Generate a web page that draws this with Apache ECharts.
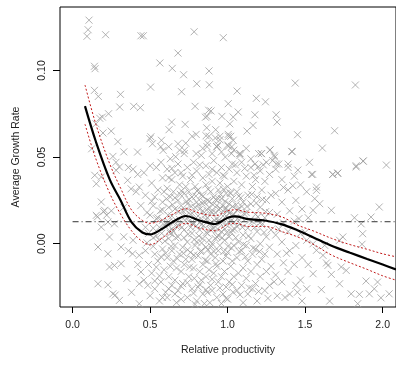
<!DOCTYPE html>
<html>
<head>
<meta charset="utf-8">
<script src="https://cdn.jsdelivr.net/npm/echarts@6/dist/echarts.min.js"></script>
<style>
  html, body { margin: 0; padding: 0; background: #fff; }
  #chart { width: 396px; height: 365px; }
</style>
</head>
<body>
<div id="chart"></div>
<script>
// tick labels
const xTicks = [0, 0.5, 1, 1.5, 2]
const yTicks = [0, 0.05, 0.1]

// observations (relative productivity, average growth rate)
const points = [
  // upper / outlying points
  [0.106,0.129],[0.100,0.1235],[0.093,0.1197],[0.213,0.1206],[0.441,0.120],[0.141,0.1024],[0.145,0.101],
  [0.141,0.0885],[0.166,0.085],[0.309,0.0862],[0.304,0.0789],[0.394,0.0793],[0.437,0.0785],[0.192,0.0731],
  [0.232,0.075],[0.151,0.0692],[0.175,0.0724],[0.196,0.0639],[0.249,0.065],[0.292,0.0589],[0.123,0.0548],
  [0.419,0.0529],[0.26,0.0504],[0.456,0.120],[0.784,0.1223],[0.972,0.1189],[0.68,0.110],[0.563,0.1043],
  [0.643,0.1012],[0.716,0.0975],[0.88,0.0997],[0.503,0.0904],[0.703,0.0877],[0.801,0.0923],[0.882,0.0917],
  [0.79,0.0793],[0.893,0.0766],[0.867,0.0735],[0.963,0.0735],[0.639,0.0702],[0.726,0.0689],[0.622,0.0658],
  [0.865,0.0669],[0.923,0.0658],[0.797,0.0631],[0.771,0.062],[0.861,0.0623],[0.95,0.062],[0.499,0.0606],
  [0.573,0.0597],[0.515,0.0577],[0.68,0.0577],[0.937,0.057],[0.584,0.0539],[0.722,0.0539],[0.797,0.052],
  [1.436,0.0927],[1.061,0.0881],[1.185,0.0839],[1.244,0.0819],[1.004,0.0808],[1.068,0.076],[1.036,0.0731],
  [1.176,0.0744],[1.313,0.0744],[1.319,0.0702],[1.014,0.0692],[1.164,0.0683],[1.125,0.065],[1.451,0.0629],
  [1.004,0.0631],[1.036,0.0597],[1.004,0.0562],[1.078,0.052],[1.217,0.052],[1.274,0.0542],[1.413,0.0533],
  [1.025,0.052],[1.824,0.0916],[1.69,0.0652],[1.611,0.0552],[1.135,0.137],[2.024,0.0454],[1.873,0.0477],
  [1.829,0.045],[1.417,0.0531],[1.528,0.047],[1.549,0.040],[1.677,0.040],[1.709,0.0406],[0.505,0.0617],
  [0.569,0.056],[0.665,0.0502],[0.921,0.061],[0.931,0.056],[1.006,0.062],[0.867,0.056],[1.027,0.056],
  [1.08,0.052],[1.219,0.052],[1.176,0.046],[1.198,0.0444],[1.315,0.046],[1.39,0.044],[1.453,0.0425],
  [1.272,0.054],[1.304,0.050],[0.857,0.073],[0.878,0.077],
  // right side
  [1.875,0.0477],[1.829,0.0443],[1.679,0.040],[1.711,0.0408],[1.541,0.040],[1.573,0.0327],[1.573,0.0308],
  [1.562,0.026],[1.978,0.0212],[1.669,0.0193],[1.551,0.0193],[1.594,0.0231],[1.818,0.015],[1.925,0.0154],
  [1.861,0.0115],[1.743,0.0039],[1.871,0.0058],[1.722,0.002],[1.867,-0.0003],[1.626,-0.0009],[1.551,0.0],
  [1.573,-0.0038],[1.615,-0.0067],[1.637,-0.0111],[1.647,-0.0125],[1.551,-0.0173],[1.669,-0.0177],
  [1.765,-0.0154],[1.733,-0.0134],[1.893,-0.0215],[1.967,-0.0221],[1.722,-0.0231],[1.605,-0.0265],
  [1.946,-0.026],[1.797,-0.0289],[1.85,-0.0292],[1.914,-0.0289],[1.989,-0.0312],[1.658,-0.0331],
  [1.839,-0.0346],[2.042,-0.0289],
  // left side
  [0.143,0.0395],[0.185,0.0385],[0.153,0.0346],[0.302,0.0443],[0.281,0.0424],[0.355,0.0366],[0.377,0.0317],
  [0.43,0.0327],[0.185,0.0241],[0.206,0.0193],[0.153,0.0164],[0.228,0.0125],[0.27,0.0115],[0.185,0.0096],
  [0.238,0.0039],[0.164,-0.0019],[0.313,-0.0019],[0.228,-0.0058],[0.387,-0.0058],[0.43,-0.0067],
  [0.27,-0.0125],[0.313,-0.0115],[0.238,-0.0134],[0.164,-0.0231],[0.228,-0.0237],[0.26,-0.0289],
  [0.302,-0.0327],[0.43,-0.0231],[0.441,-0.0163],[0.43,-0.0346],[0.275,-0.0296],[0.16,0.0155],[0.2,0.0185],
  [0.22,0.0165],[0.25,0.019],[0.33,0.004],[0.36,-0.004],[0.39,0.002],[0.42,-0.012],[0.35,-0.020],
  [0.38,-0.028],[0.44,0.022],[0.41,0.030],[0.33,0.021],[0.28,0.047],[0.36,0.044],[0.39,0.043],[0.42,0.040],
  [0.33,0.053],
  // 0.45 - 0.6
  [0.46,0.041],[0.47,0.028],[0.48,0.018],[0.47,-0.004],[0.49,-0.012],[0.46,-0.021],[0.50,-0.030],[0.51,0.035],
  [0.52,0.022],[0.52,0.009],[0.53,-0.006],[0.51,-0.017],[0.53,-0.026],[0.54,0.044],[0.55,0.031],[0.55,0.015],
  [0.56,0.002],[0.55,-0.010],[0.57,-0.022],[0.56,-0.033],[0.58,0.038],[0.58,0.024],[0.59,0.011],[0.58,-0.003],
  [0.59,-0.015],[0.60,-0.028],[0.57,0.047],[0.49,0.006],[0.54,-0.0135],[0.59,0.030],[0.50,0.045],[0.53,0.027],
  [0.565,0.019],[0.575,0.006],[0.485,-0.024],
  [0.52,-0.0015],[0.54,0.0045],[0.56,-0.0185],[0.58,0.0135],[0.50,0.0165],[0.47,0.0095],[0.53,-0.0215],
  [0.57,-0.0075],[0.595,0.0015],[0.51,0.0245],
  [0.58,0.0195],[0.56,0.0095],[0.54,0.0145],[0.52,0.0035],[0.6,-0.0055],[0.48,0.0005],
  // 0.6 - 0.8
  [0.61,0.043],[0.61,0.032],[0.62,0.021],[0.61,0.012],[0.62,0.003],[0.61,-0.008],[0.62,-0.019],[0.61,-0.031],
  [0.63,0.049],[0.64,0.037],[0.63,0.027],[0.64,0.016],[0.63,0.006],[0.64,-0.004],[0.63,-0.013],[0.64,-0.024],
  [0.66,0.041],[0.65,0.030],[0.66,0.020],[0.67,0.010],[0.66,-0.001],[0.65,-0.010],[0.66,-0.021],[0.67,-0.034],
  [0.68,0.046],[0.69,0.034],[0.68,0.025],[0.69,0.014],[0.68,0.004],[0.69,-0.006],[0.70,-0.016],[0.68,-0.027],
  [0.71,0.039],[0.72,0.029],[0.71,0.019],[0.72,0.008],[0.71,-0.002],[0.72,-0.012],[0.71,-0.023],[0.72,0.052],
  [0.74,0.044],[0.73,0.033],[0.74,0.023],[0.75,0.013],[0.74,0.001],[0.73,-0.009],[0.75,-0.019],[0.74,-0.031],
  [0.76,0.037],[0.77,0.027],[0.76,0.017],[0.77,0.006],[0.76,-0.005],[0.78,-0.014],[0.77,-0.026],[0.78,0.047],
  [0.79,0.033],[0.79,0.021],[0.795,0.010],[0.79,-0.001],[0.785,-0.020],[0.79,-0.035],[0.65,0.007],[0.70,0.022],
  [0.75,0.030],[0.78,0.012],[0.62,0.038],[0.67,-0.014],[0.73,0.016],[0.77,-0.009],
  [0.605,0.026],[0.615,0.0165],[0.625,0.0075],[0.635,-0.0015],[0.645,0.0225],[0.655,0.0125],[0.665,0.0035],
  [0.675,-0.0085],[0.685,0.0185],[0.695,0.0285],[0.705,0.0095],[0.715,-0.0055],[0.725,0.0135],[0.735,0.0245],
  [0.745,0.0055],[0.755,-0.0135],[0.765,0.0215],[0.775,0.0115],[0.785,0.0025],[0.795,0.0275],
  [0.702,0.0305],[0.718,0.0035],[0.728,0.0195],[0.742,-0.0035],[0.752,0.0255],[0.762,0.0095],[0.772,0.0175],
  [0.782,-0.0065],[0.792,0.0145],[0.68,0.0105],[0.66,0.0265],[0.64,0.0085],[0.62,0.0125],
  // 0.8 - 1.05
  [0.80,0.042],[0.81,0.031],[0.80,0.024],[0.81,0.016],[0.82,0.008],[0.80,0.001],[0.81,-0.007],[0.82,-0.016],
  [0.81,-0.025],[0.80,-0.033],[0.83,0.051],[0.84,0.038],[0.83,0.028],[0.84,0.019],[0.83,0.011],[0.84,0.003],
  [0.83,-0.004],[0.84,-0.012],[0.83,-0.021],[0.84,-0.029],[0.86,0.045],[0.86,0.034],[0.87,0.025],[0.86,0.014],
  [0.87,0.006],[0.86,-0.002],[0.87,-0.010],[0.86,-0.019],[0.87,-0.028],[0.88,0.040],[0.89,0.030],[0.88,0.021],
  [0.89,0.012],[0.88,0.002],[0.89,-0.006],[0.88,-0.015],[0.89,-0.024],[0.885,-0.034],[0.91,0.048],[0.90,0.036],
  [0.91,0.027],[0.92,0.018],[0.91,0.009],[0.90,0.000],[0.92,-0.008],[0.91,-0.017],[0.90,-0.027],[0.93,0.041],
  [0.94,0.031],[0.93,0.022],[0.94,0.013],[0.93,0.004],[0.94,-0.004],[0.93,-0.013],[0.94,-0.022],[0.93,-0.031],
  [0.96,0.044],[0.95,0.035],[0.96,0.026],[0.97,0.016],[0.96,0.007],[0.95,-0.001],[0.97,-0.010],[0.96,-0.019],
  [0.97,-0.029],[0.98,0.039],[0.99,0.029],[0.98,0.020],[0.99,0.011],[0.98,0.002],[0.99,-0.007],[0.98,-0.016],
  [0.99,-0.025],[0.985,0.050],[1.01,0.043],[1.00,0.033],[1.01,0.023],[1.02,0.013],[1.01,0.004],[1.00,-0.005],
  [1.02,-0.013],[1.01,-0.022],[1.00,-0.032],[1.03,0.046],[1.04,0.036],[1.03,0.026],[1.04,0.017],[1.03,0.008],
  [1.04,-0.001],[1.03,-0.010],[1.04,-0.019],[1.035,-0.028],[0.85,0.024],[0.90,0.018],[0.95,0.012],[1.00,0.019],
  [0.87,0.015],[0.92,0.003],[0.97,0.022],[1.02,0.029],[0.82,0.020],[0.94,0.026],[0.99,0.016],[0.89,0.008],
  [0.805,0.0135],[0.815,0.0045],[0.825,-0.0045],[0.835,0.0235],[0.845,0.0105],[0.855,-0.0095],[0.865,0.0195],
  [0.875,0.0315],[0.885,0.0115],[0.895,-0.0015],[0.905,0.0225],[0.915,0.0135],[0.925,-0.0115],[0.935,0.0085],
  [0.945,0.0195],[0.955,0.0285],[0.965,0.0035],[0.975,-0.0045],[0.985,0.0245],[0.995,0.0065],[1.005,0.0125],
  [1.015,0.0295],[1.025,-0.0025],[1.035,0.0165],[1.045,0.0085],
  [0.802,0.0305],[0.812,0.0225],[0.822,0.0125],[0.832,0.0005],[0.842,0.0275],[0.852,0.0165],[0.862,0.0065],
  [0.872,-0.0035],[0.882,0.0245],[0.892,0.0185],[0.902,0.0085],[0.912,-0.0045],[0.922,0.0255],[0.932,0.0145],
  [0.942,0.0045],[0.952,0.0205],[0.962,0.0125],[0.972,0.0315],[0.982,0.0085],[0.992,0.0205],[1.002,-0.0015],
  [1.012,0.0175],[1.022,0.0065],[1.032,0.0215],[1.042,0.0125],
  // 1.05 - 1.3
  [1.06,0.041],[1.06,0.030],[1.07,0.020],[1.06,0.010],[1.07,0.001],[1.06,-0.008],[1.07,-0.017],[1.06,-0.027],
  [1.09,0.047],[1.09,0.034],[1.10,0.024],[1.09,0.015],[1.10,0.005],[1.09,-0.004],[1.10,-0.014],[1.09,-0.024],
  [1.10,-0.034],[1.12,0.039],[1.13,0.028],[1.12,0.018],[1.13,0.009],[1.12,-0.001],[1.13,-0.010],[1.12,-0.020],
  [1.13,-0.029],[1.15,0.044],[1.16,0.033],[1.15,0.023],[1.16,0.013],[1.15,0.003],[1.16,-0.006],[1.15,-0.016],
  [1.16,-0.026],[1.18,0.037],[1.19,0.027],[1.18,0.017],[1.19,0.007],[1.18,-0.003],[1.19,-0.012],[1.18,-0.023],
  [1.19,-0.033],[1.21,0.042],[1.22,0.031],[1.21,0.021],[1.22,0.011],[1.21,0.000],[1.22,-0.009],[1.21,-0.019],
  [1.24,0.036],[1.25,0.025],[1.24,0.015],[1.25,0.004],[1.24,-0.006],[1.25,-0.016],[1.24,-0.027],[1.27,0.040],
  [1.28,0.028],[1.27,0.018],[1.28,0.008],[1.27,-0.002],[1.28,-0.013],[1.27,-0.024],[1.29,0.048],
  [1.055,0.0225],[1.065,0.0145],[1.075,-0.0045],[1.085,0.0265],[1.095,0.0095],[1.105,0.0175],[1.115,-0.0075],
  [1.125,0.0215],[1.135,0.0045],[1.145,0.0135],[1.155,0.0285],[1.165,-0.0025],[1.175,0.0095],[1.185,0.0235],
  [1.195,0.0155],[1.205,-0.0045],[1.215,0.0125],[1.225,0.0255],[1.235,0.0065],[1.245,0.0185],
  [1.052,0.0035],[1.062,0.0195],[1.072,0.0275],[1.082,0.0115],[1.092,0.0215],[1.102,-0.0005],
  // 1.3 - 1.55
  [1.31,0.043],[1.31,0.029],[1.32,0.017],[1.31,0.005],[1.32,-0.006],[1.31,-0.018],[1.32,-0.030],[1.35,0.037],
  [1.35,0.024],[1.36,0.012],[1.35,0.001],[1.36,-0.011],[1.35,-0.022],[1.39,0.046],[1.39,0.031],[1.40,0.019],
  [1.39,0.007],[1.40,-0.004],[1.39,-0.016],[1.40,-0.029],[1.43,0.039],[1.44,0.025],[1.43,0.013],[1.44,-0.001],
  [1.43,-0.012],[1.44,-0.024],[1.47,0.034],[1.48,0.020],[1.47,0.006],[1.48,-0.008],[1.47,-0.021],[1.48,-0.033],
  [1.51,0.030],[1.52,0.015],[1.51,0.002],[1.52,-0.012],[1.51,-0.026],
  [1.36,0.0325],[1.42,0.0335],[1.46,0.0145],[1.33,0.0085],[1.38,-0.0055],[1.5,0.0065],
  // lower band
  [0.62,-0.026],[0.66,-0.029],[0.7,-0.0245],[0.74,-0.0225],[0.78,-0.0285],[0.82,-0.0235],[0.86,-0.0265],
  [0.9,-0.0205],[0.95,-0.0255],[0.99,-0.0315],[1.03,-0.0235],[1.08,-0.0295],[1.14,-0.0255],[1.2,-0.0275],
  [1.26,-0.0315],[1.3,-0.022],[1.37,-0.031],[1.45,-0.028],[0.58,-0.031],[0.7,-0.032],[0.85,-0.0345],[0.96,-0.0345],
  // 0.04 - 0.06 band
  [0.84,0.055],[0.87,0.058],[0.9,0.052],[0.93,0.056],[0.96,0.053],[1.0,0.057],[1.04,0.054],[1.08,0.051],
  [1.12,0.055],[1.15,0.049],[1.2,0.052],[1.25,0.047],[1.3,0.051],[1.33,0.046],[0.88,0.062],[0.95,0.06],
  [1.02,0.062],[0.73,0.058],[0.69,0.054],[0.62,0.056],
  [0.64,0.0435],[0.7,0.041],[0.77,0.0395],[0.82,0.0455],[0.9,0.043],[0.97,0.0395],[1.05,0.0455],[1.11,0.0435],
  [1.17,0.0395],[1.23,0.0455]
]

// smoothed fit and its confidence band
const fitX = [0.08, 0.15, 0.24, 0.31, 0.38, 0.45, 0.5, 0.57, 0.65, 0.73, 0.82, 0.92, 1.0, 1.05, 1.13, 1.24, 1.35, 1.45, 1.55, 1.67, 1.79, 1.9, 2.0, 2.086]
const fitY = [0.0794, 0.059, 0.037, 0.025, 0.0125, 0.0065, 0.0054, 0.0082, 0.0128, 0.016, 0.0134, 0.0114, 0.015, 0.0158, 0.0142, 0.0134, 0.0112, 0.0078, 0.0038, -0.0012, -0.0052, -0.0088, -0.012, -0.0148]
const upperY = [0.0916, 0.069, 0.046, 0.032, 0.0195, 0.0135, 0.0118, 0.0135, 0.0172, 0.0202, 0.0176, 0.0162, 0.019, 0.0196, 0.0182, 0.0176, 0.0155, 0.0108, 0.0075, 0.0031, -0.0005, -0.0032, -0.0058, -0.0075]
const lowerY = [0.069, 0.049, 0.029, 0.017, 0.0075, 0.0012, -0.0006, 0.0028, 0.0082, 0.0118, 0.009, 0.0075, 0.0112, 0.0118, 0.01, 0.01, 0.007, 0.004, -0.0002, -0.0065, -0.011, -0.0148, -0.0185, -0.021]

// mean growth rate (dash-dot reference line)
const meanRate = 0.0127

const zip = (xs, ys) => xs.map((x, i) => [x, ys[i]])

let chart = echarts.init(document.getElementById("chart"))
let txt = { color: "#222", fontFamily: "Liberation Sans, Arial, sans-serif", fontSize: 10.5 }

let option = {
  animation: false,
  grid: {
    left: 60,
    top: 7,
    right: -3,
    bottom: 58,
    show: true,
    borderColor: "#000",
    borderWidth: 1
  },
  xAxis: {
    type: "value",
    min: -0.0812,
    max: 2.086,
    name: "Relative productivity",
    nameLocation: "middle",
    nameGap: 38,
    nameTextStyle: txt,
    axisLine: { show: false, onZero: false },
    splitLine: { show: false },
    axisTick: { show: true, customValues: xTicks, length: 6, lineStyle: { color: "#000" } },
    axisLabel: Object.assign({ customValues: xTicks, margin: 13, formatter: v => v.toFixed(1) }, txt)
  },
  yAxis: {
    type: "value",
    min: -0.0365,
    max: 0.1366,
    name: "Average Growth Rate",
    nameLocation: "middle",
    nameGap: 38,
    nameTextStyle: txt,
    axisLine: { show: false, onZero: false },
    splitLine: { show: false },
    axisTick: { show: true, customValues: yTicks, length: 7, lineStyle: { color: "#000" } },
    axisLabel: Object.assign({ customValues: yTicks, rotate: 90, margin: 12, formatter: v => v.toFixed(2) }, txt)
  },
  series: [
    {
      type: "scatter",
      data: points,
      symbol: "path://M0,0L10,10M10,0L0,10",
      symbolSize: 7,
      itemStyle: { color: "transparent", borderColor: "#9f9f9f", borderWidth: 1 },
      emphasis: { disabled: true },
      z: 1
    },
    {
      type: "line",
      data: [[0, meanRate], [2.086, meanRate]],
      symbol: "none",
      lineStyle: { color: "#333", width: 1, type: [6, 3, 1, 3] },
      z: 2
    },
    {
      type: "line",
      data: zip(fitX, upperY),
      smooth: 0.35,
      symbol: "none",
      lineStyle: { color: "#c01818", width: 1, type: [2, 2] },
      z: 3
    },
    {
      type: "line",
      data: zip(fitX, lowerY),
      smooth: 0.35,
      symbol: "none",
      lineStyle: { color: "#c01818", width: 1, type: [2, 2] },
      z: 3
    },
    {
      type: "line",
      data: zip(fitX, fitY),
      smooth: 0.35,
      symbol: "none",
      lineStyle: { color: "#000", width: 2.2 },
      z: 4
    }
  ]
}
option && chart.setOption(option)
window.addEventListener("resize", function () {
  chart.resize()
})
</script>
</body>
</html>
